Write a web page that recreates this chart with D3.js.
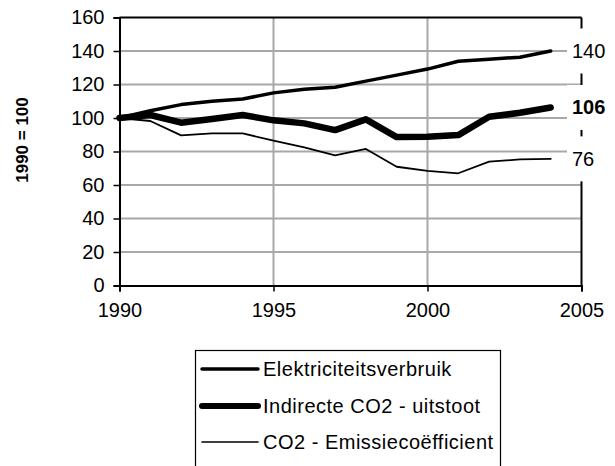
<!DOCTYPE html>
<html>
<head>
<meta charset="utf-8">
<script src="https://cdn.jsdelivr.net/npm/d3@7"></script>
<style>
  html, body { margin: 0; padding: 0; background: #fff; }
  svg { display: block; font-family: "Liberation Sans", Arial, sans-serif; }
  text { font-family: "Liberation Sans", Arial, sans-serif; }
</style>
</head>
<body>
<svg id="chart" width="615" height="466"></svg>
<script>
const years = [1990,1991,1992,1993,1994,1995,1996,1997,1998,1999,2000,2001,2002,2003,2004];
const elektriciteit = [100,104.3,108,110,111.3,115,117.1,118.4,122,125.6,129.2,133.9,135.1,136.3,140];
const indirecteCO2 = [100,101.8,97.2,99.4,101.8,98.6,96.8,92.8,99.2,88.6,88.8,89.8,100.7,103.1,106.3];
const emissiecoef  = [100,98.2,89.6,90.8,90.8,86.5,82.5,77.7,81.5,70.9,68.4,67.0,73.9,75.3,75.6];
const seriesNames = ["Elektriciteitsverbruik", "Indirecte CO2 - uitstoot", "CO2 - Emissiecoëfficient"];
const endLabels = ["140", "106", "76"];
const xTicks = [1990, 1995, 2000, 2005];
const yTicks = [0,20,40,60,80,100,120,140,160];
const yTitle = "1990 = 100";

const FONT = "'Liberation Sans', Arial, sans-serif";
const series = [
  {name: seriesNames[0], values: elektriciteit, width: 3.5, legendWidth: 3.5, label: endLabels[0], bold: false},
  {name: seriesNames[1], values: indirecteCO2, width: 6.5, legendWidth: 6, label: endLabels[1], bold: true},
  {name: seriesNames[2], values: emissiecoef, width: 1.8, legendWidth: 1.6, label: endLabels[2], bold: false}
];

const svg = d3.select("#chart");
const x = d3.scaleLinear().domain([1990, 2005]).range([119.5, 581.5]);
const y = d3.scaleLinear().domain([0, 160]).range([285.5, 17.5]);

// gridlines
const grid = svg.append("g");
grid.selectAll("line.h").data(yTicks.filter(d => d > 0 && d < 160)).enter().append("line")
  .attr("x1", x(1990)).attr("x2", x(2005))
  .attr("y1", d => y(d)).attr("y2", d => y(d))
  .attr("stroke", "#a8a8a8").attr("stroke-width", 2);
grid.selectAll("line.v").data(xTicks.filter(d => d > 1990 && d < 2005)).enter().append("line")
  .attr("y1", y(0)).attr("y2", y(160))
  .attr("x1", d => x(d)).attr("x2", d => x(d))
  .attr("stroke", "#a8a8a8").attr("stroke-width", 2);

// plot frame (top & right)
svg.append("line").attr("x1", x(1990)).attr("x2", x(2005)).attr("y1", y(160)).attr("y2", y(160))
  .attr("stroke", "#000").attr("stroke-width", 2);
svg.append("line").attr("x1", x(2005)).attr("x2", x(2005)).attr("y1", y(160)).attr("y2", y(0))
  .attr("stroke", "#000").attr("stroke-width", 2);

// axes
const yAxis = d3.axisLeft(y).tickValues(yTicks).tickSize(6).tickPadding(9);
const gy = svg.append("g").attr("transform", `translate(${x(1990)},0)`).call(yAxis);
const xAxis = d3.axisBottom(x).tickValues(xTicks).tickFormat(d3.format("d")).tickSize(6).tickPadding(11);
const gx = svg.append("g").attr("transform", `translate(0,${y(0)})`).call(xAxis);
[gx, gy].forEach(g => {
  g.select(".domain").attr("stroke", "#000").attr("stroke-width", 2);
  g.selectAll(".tick line").attr("stroke", "#000").attr("stroke-width", 1.5);
  g.selectAll(".tick text").attr("fill", "#000").style("font-size", "20px").style("font-family", FONT);
});

// lines
const line = d3.line().x((d, i) => x(years[i])).y(d => y(d));
svg.append("g").selectAll("path").data(series).enter().append("path")
  .attr("d", d => line(d.values))
  .attr("fill", "none").attr("stroke", "#000")
  .attr("stroke-width", d => d.width)
  .attr("stroke-linejoin", "round").attr("stroke-linecap", "round");

// end labels with white boxes
const lab = svg.append("g");
series.forEach(s => {
  const ly = y(s.values[s.values.length - 1]);
  lab.append("rect").attr("x", 567).attr("y", ly - 22.5).attr("width", 48).attr("height", 45).attr("fill", "#fff");
  lab.append("text").attr("x", 572).attr("y", ly).attr("dy", "0.35em")
    .style("font-size", "20px").style("font-family", FONT).style("font-weight", s.bold ? "bold" : "normal")
    .text(s.label);
});

// y title
svg.append("text").attr("transform", "translate(22,140) rotate(-90)")
  .attr("text-anchor", "middle").attr("dy", "0.35em")
  .style("font-size", "17px").style("font-family", FONT).style("font-weight", "bold").text(yTitle);

// legend
const leg = svg.append("g");
leg.append("rect").attr("x", 195.5).attr("y", 350.5).attr("width", 305).attr("height", 140)
  .attr("fill", "#fff").attr("stroke", "#000").attr("stroke-width", 1.2);
const rowY = [369, 406, 442];
series.forEach((s, i) => {
  leg.append("line").attr("x1", 202).attr("x2", 258).attr("y1", rowY[i]).attr("y2", rowY[i])
    .attr("stroke", "#000").attr("stroke-width", s.legendWidth).attr("stroke-linecap", "round");
  leg.append("text").attr("x", 263).attr("y", rowY[i]).attr("dy", "0.35em")
    .style("font-size", "20px").style("font-family", FONT).style("letter-spacing", "0.5px").text(s.name);
});
</script>
</body>
</html>
